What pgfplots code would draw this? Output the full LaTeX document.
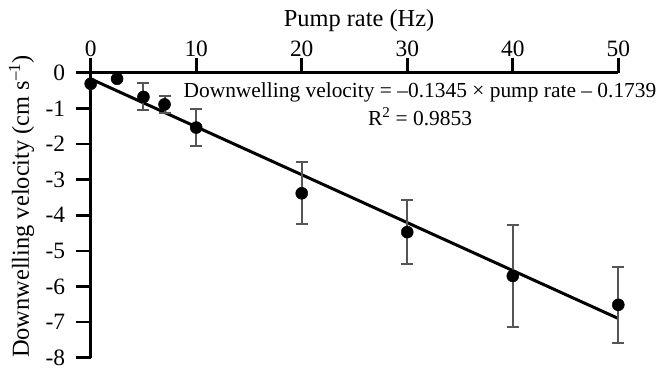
\documentclass[border=0pt]{standalone}
\usepackage{pgfplots}
\pgfplotsset{compat=1.18}
\usepackage{pgfplotstable}
\usepackage{fontspec}
\setmainfont{Liberation Serif}

% Mean downwelling velocity and its error for each pump rate
\pgfplotstableread{
x    y       err
5    -0.68   0.38
7    -0.89   0.24
10   -1.54   0.51
20   -3.385  0.875
30   -4.475  0.90
40   -5.705  1.425
50   -6.515  1.065
}\velocity

% Low pump rates, no error bar shown
\pgfplotstableread{
x    y
0    -0.31
2.5  -0.17
}\velocitylow

\definecolor{errgray}{HTML}{555555}

\begin{document}
\begin{tikzpicture}[x=1bp,y=1bp]
\begin{axis}[
  at={(0,0)}, anchor=south west,
  scale only axis, width=527.6bp, height=285bp,
  xmin=0, xmax=50, ymin=-8, ymax=0,
  axis x line*=top, axis y line*=left,
  axis line style={line width=2.6bp, black},
  xtick={0,10,...,50}, ytick={-8,-7,...,0},
  tick align=outside,
  major tick length=15bp,
  tick style={line width=2.6bp, black},
  ticklabel style={font=\fontsize{23.5}{26}\selectfont},
  xticklabel shift=-3bp,
  yticklabel shift=7bp,
  /pgf/number format/assume math mode=true,
  clip=false,
]
% Linear fit: v = -0.1345 p - 0.1739
\addplot[black, line width=3bp] coordinates {(0,-0.1739) (50,-6.8989)};

\addplot[only marks, mark=*, mark size=6bp,
  mark options={fill=black, draw=black, line width=0.5bp},
  error bars/.cd, y dir=both, y explicit,
  error bar style={errgray, line width=2bp},
  error mark options={rotate=90, errgray, mark size=6bp, line width=2bp}]
  table[x=x, y=y, y error=err] {\velocity};

\addplot[only marks, mark=*, mark size=6bp,
  mark options={fill=black, draw=black, line width=0.5bp}]
  table[x=x, y=y] {\velocitylow};
\end{axis}

% Axis titles
\node[anchor=base, font=\fontsize{24.5}{26}\selectfont] at (268.3,331)
  {Pump rate (Hz)};
\node[anchor=base, rotate=90, font=\fontsize{24.5}{26}\selectfont] at (-61.7,151.2)
  {Downwelling velocity (cm s\textsuperscript{--1})};

% Fitted relation
\node[anchor=base, font=\fontsize{21.5}{24}\selectfont] at (329.3,260.7)
  {Downwelling velocity = \textendash0.1345 × pump rate \textendash\ 0.1739};
\node[anchor=base, font=\fontsize{21.5}{24}\selectfont] at (329.3,232.7)
  {R\textsuperscript{2} = 0.9853};

\pgfresetboundingbox
\useasboundingbox (-90.7,-11.3) rectangle (567.3,357.7);
\end{tikzpicture}
\end{document}
